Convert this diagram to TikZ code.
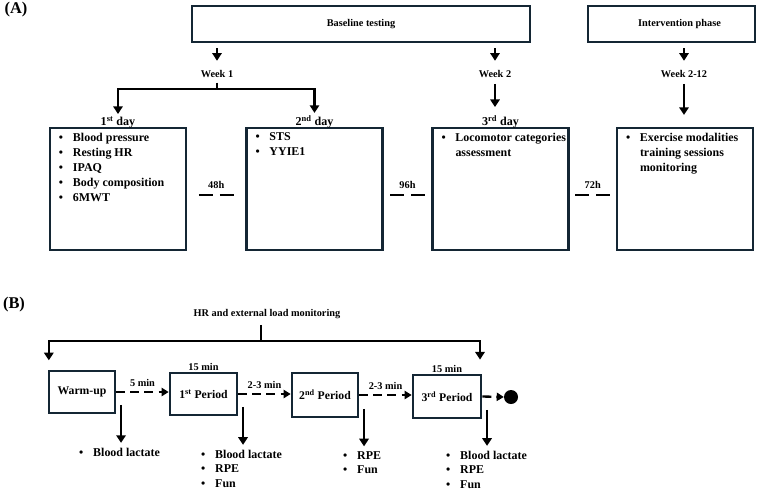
\documentclass[tikz,border=0pt]{standalone}
\usepackage{fontspec}
\setmainfont{Liberation Serif}
\usetikzlibrary{arrows.meta,positioning,calc}
\definecolor{boxline}{RGB}{20,38,52}
\definecolor{inkblack}{RGB}{0,0,0}
\newdimen\pu \pu=0.03cm
\newcommand{\itm}[1]{\par\hangindent=23\pu\hangafter=1\leavevmode\hspace*{9\pu}\makebox[14\pu][l]{\textbullet}#1}
\newcommand{\lit}[1]{\makebox[14\pu][l]{\textbullet}#1}

\begin{document}
\begin{tikzpicture}[x=0.03cm, y=-0.03cm,
    box/.style={draw=boxline, line width=2.3pt, inner sep=0pt, font=\fontsize{10.2}{12.8}\selectfont\bfseries},
    topbox/.style={draw=boxline, line width=2.3pt, minimum height=36\pu, font=\fontsize{8.8}{10}\selectfont\bfseries},
    pbox/.style={draw=boxline, line width=2.3pt, inner sep=0pt, font=\fontsize{10}{12}\selectfont\bfseries},
    lab/.style={inner sep=1pt, font=\fontsize{8.8}{10}\selectfont\bfseries},
    day/.style={inner sep=0pt, font=\fontsize{10.3}{12}\selectfont\bfseries},
    panel/.style={inner sep=0pt, font=\fontsize{14}{16}\selectfont\bfseries},
    lst/.style={anchor=west, align=left, inner sep=0pt, font=\fontsize{10.2}{12.4}\selectfont\bfseries},
    line/.style={color=inkblack, line width=2.2pt},
    arr/.style={color=inkblack, line width=2.2pt, -{Triangle[length=6.5pt,width=8pt]}},
    gap/.style={color=inkblack, line width=2.5pt, dash pattern=on 12pt off 6pt},
    dasharr/.style={color=inkblack, line width=2pt, dash pattern=on 7.7pt off 4.3pt, -{Triangle[length=6pt,width=7pt]}},
    dot/.style={circle, fill=inkblack, inner sep=0pt, minimum size=14\pu}]

    \useasboundingbox (0,0) rectangle (780,490);

    % 1. Panel A: phases and weeks
    \node[panel] (pa) at (16,10) {(A)};
    \node[topbox, minimum width=338\pu] (base) at (361,24) {Baseline testing};
    \node[topbox, minimum width=167\pu] (intv) at (671.5,24) {\hspace*{16\pu}Intervention phase};

    \node[lab] (wk1) at (217,74) {Week 1};
    \node[lab] (wk2) at (495,74) {Week 2};
    \node[lab] (wk3) at (684,74) {Week 2-12};

    \draw[arr] ([yshift=-4pt]base.south -| wk1) -- ([yshift=7pt]wk1.north);
    \draw[arr] ([yshift=-4pt]base.south -| wk2) -- ([yshift=7pt]wk2.north);
    \draw[arr] ([yshift=-4pt]intv.south -| wk3) -- ([yshift=7pt]wk3.north);

    % 2. Testing days
    \node[box] (b1) at (118,189) {\begin{minipage}[c][122\pu][t]{136\pu}\vspace*{5\pu}%
        \itm{Blood pressure}\itm{Resting HR}\itm{IPAQ}\itm{Body composition}\itm{6MWT}\end{minipage}};
    \node[box] (b2) at (314.5,189) {\begin{minipage}[c][122\pu][t]{136\pu}\vspace*{5\pu}%
        \itm{STS}\itm{YYIE1}\end{minipage}};
    \node[box] (b3) at (500.5,189) {\begin{minipage}[c][122\pu][t]{136\pu}\vspace*{5\pu}%
        \itm{\mbox{Locomotor categories}\hfil\break assessment\hfil}\end{minipage}};
    \node[box] (b4) at (685,189) {\begin{minipage}[c][122\pu][t]{136\pu}\vspace*{5\pu}%
        \itm{Exercise modalities\hfil\break training sessions\hfil\break monitoring\hfil}\end{minipage}};

    \node[day, above=-1.5pt of b1] (d1) {1\textsuperscript{st} day};
    \node[day, above=-1.5pt of b2] (d2) {2\textsuperscript{nd} day};
    \node[day, above=-1.5pt of b3] (d3) {3\textsuperscript{rd} day};

    \coordinate (j1) at (217,89);
    \draw[line] ([yshift=-3pt]wk1.south) -- (j1);
    \draw[arr] (j1) -| ([yshift=2pt]d1.north);
    \draw[arr] (j1) -| ([yshift=2pt]d2.north);
    \draw[arr] ([yshift=-4pt]wk2.south) -- ([yshift=7pt]wk2.south |- d3.north);
    \draw[arr] ([yshift=-4pt]wk3.south) -- ([yshift=10pt]wk3.south |- b4.north);

    % rest intervals between days
    \foreach \a/\b/\t in {b1/b2/48h, b2/b3/96h, b3/b4/72h} {
        \coordinate (g\a) at ($(\a.east)!0.5!(\b.west)$);
        \node[lab] (h\a) at ($(g\a)+(0,-4)$) {\t};
        \draw[gap] ($(g\a)+(-17.5,6)$) -- ($(g\a)+(17.5,6)$);
    }

    % 3. Panel B: session
    \node[panel] (pb) at (14,305) {(B)};
    \node[lab] (hr) at (267,314) {HR and external load monitoring};

    \node[pbox, minimum width=66\pu, minimum height=42\pu] (wu) at (82,392) {Warm-up};
    \node[pbox, minimum width=67\pu, minimum height=42\pu] (p1) at (203.5,394) {1\textsuperscript{st} Period};
    \node[pbox, minimum width=66\pu, minimum height=44\pu] (p2) at (325,395) {2\textsuperscript{nd} Period};
    \node[pbox, minimum width=68\pu, minimum height=43\pu] (p3) at (447,396.5) {3\textsuperscript{rd} Period};
    \node[dot] (fin) at (511,397) {};

    \node[lab, above=0pt of p1] (t1) {15 min};
    \node[lab, above=0pt of p3] (t3) {15 min};

    \coordinate (j2) at (261,341);
    \draw[line] ([yshift=-4pt]hr.south -| j2) -- (j2);
    \draw[arr] (j2) -| ([xshift=1pt,yshift=8pt]wu.north west);
    \draw[arr] (j2) -| ([xshift=-2pt,yshift=12pt]p3.north east);

    \foreach \a/\b/\t in {wu/p1/5 min, p1/p2/2-3 min, p2/p3/2-3 min}
        \draw[dasharr] (\a.east) -- node[lab, above=3pt] (m\b) {\t} (\a.east -| \b.west);
    \draw[dasharr] (p3.east) -- (fin.west);

    % measurements after each part
    \node[lst] (l0) at (79,452) {\lit{Blood lactate}};
    \node[lst] (l1) at (201,468.5) {\lit{Blood lactate}\\\lit{RPE}\\\lit{Fun}};
    \node[lst] (l2) at (343,462.5) {\lit{RPE}\\\lit{Fun}};
    \node[lst] (l3) at (446,469.5) {\lit{Blood lactate}\\\lit{RPE}\\\lit{Fun}};

    \foreach \b/\l in {wu/l0, p1/l1, p2/l2, p3/l3}
        \draw[arr, shorten >=4pt] ([xshift=4pt,yshift=8pt]\b.south east) coordinate (s\b) -- (s\b |- \l.north);

\end{tikzpicture}
\end{document}
